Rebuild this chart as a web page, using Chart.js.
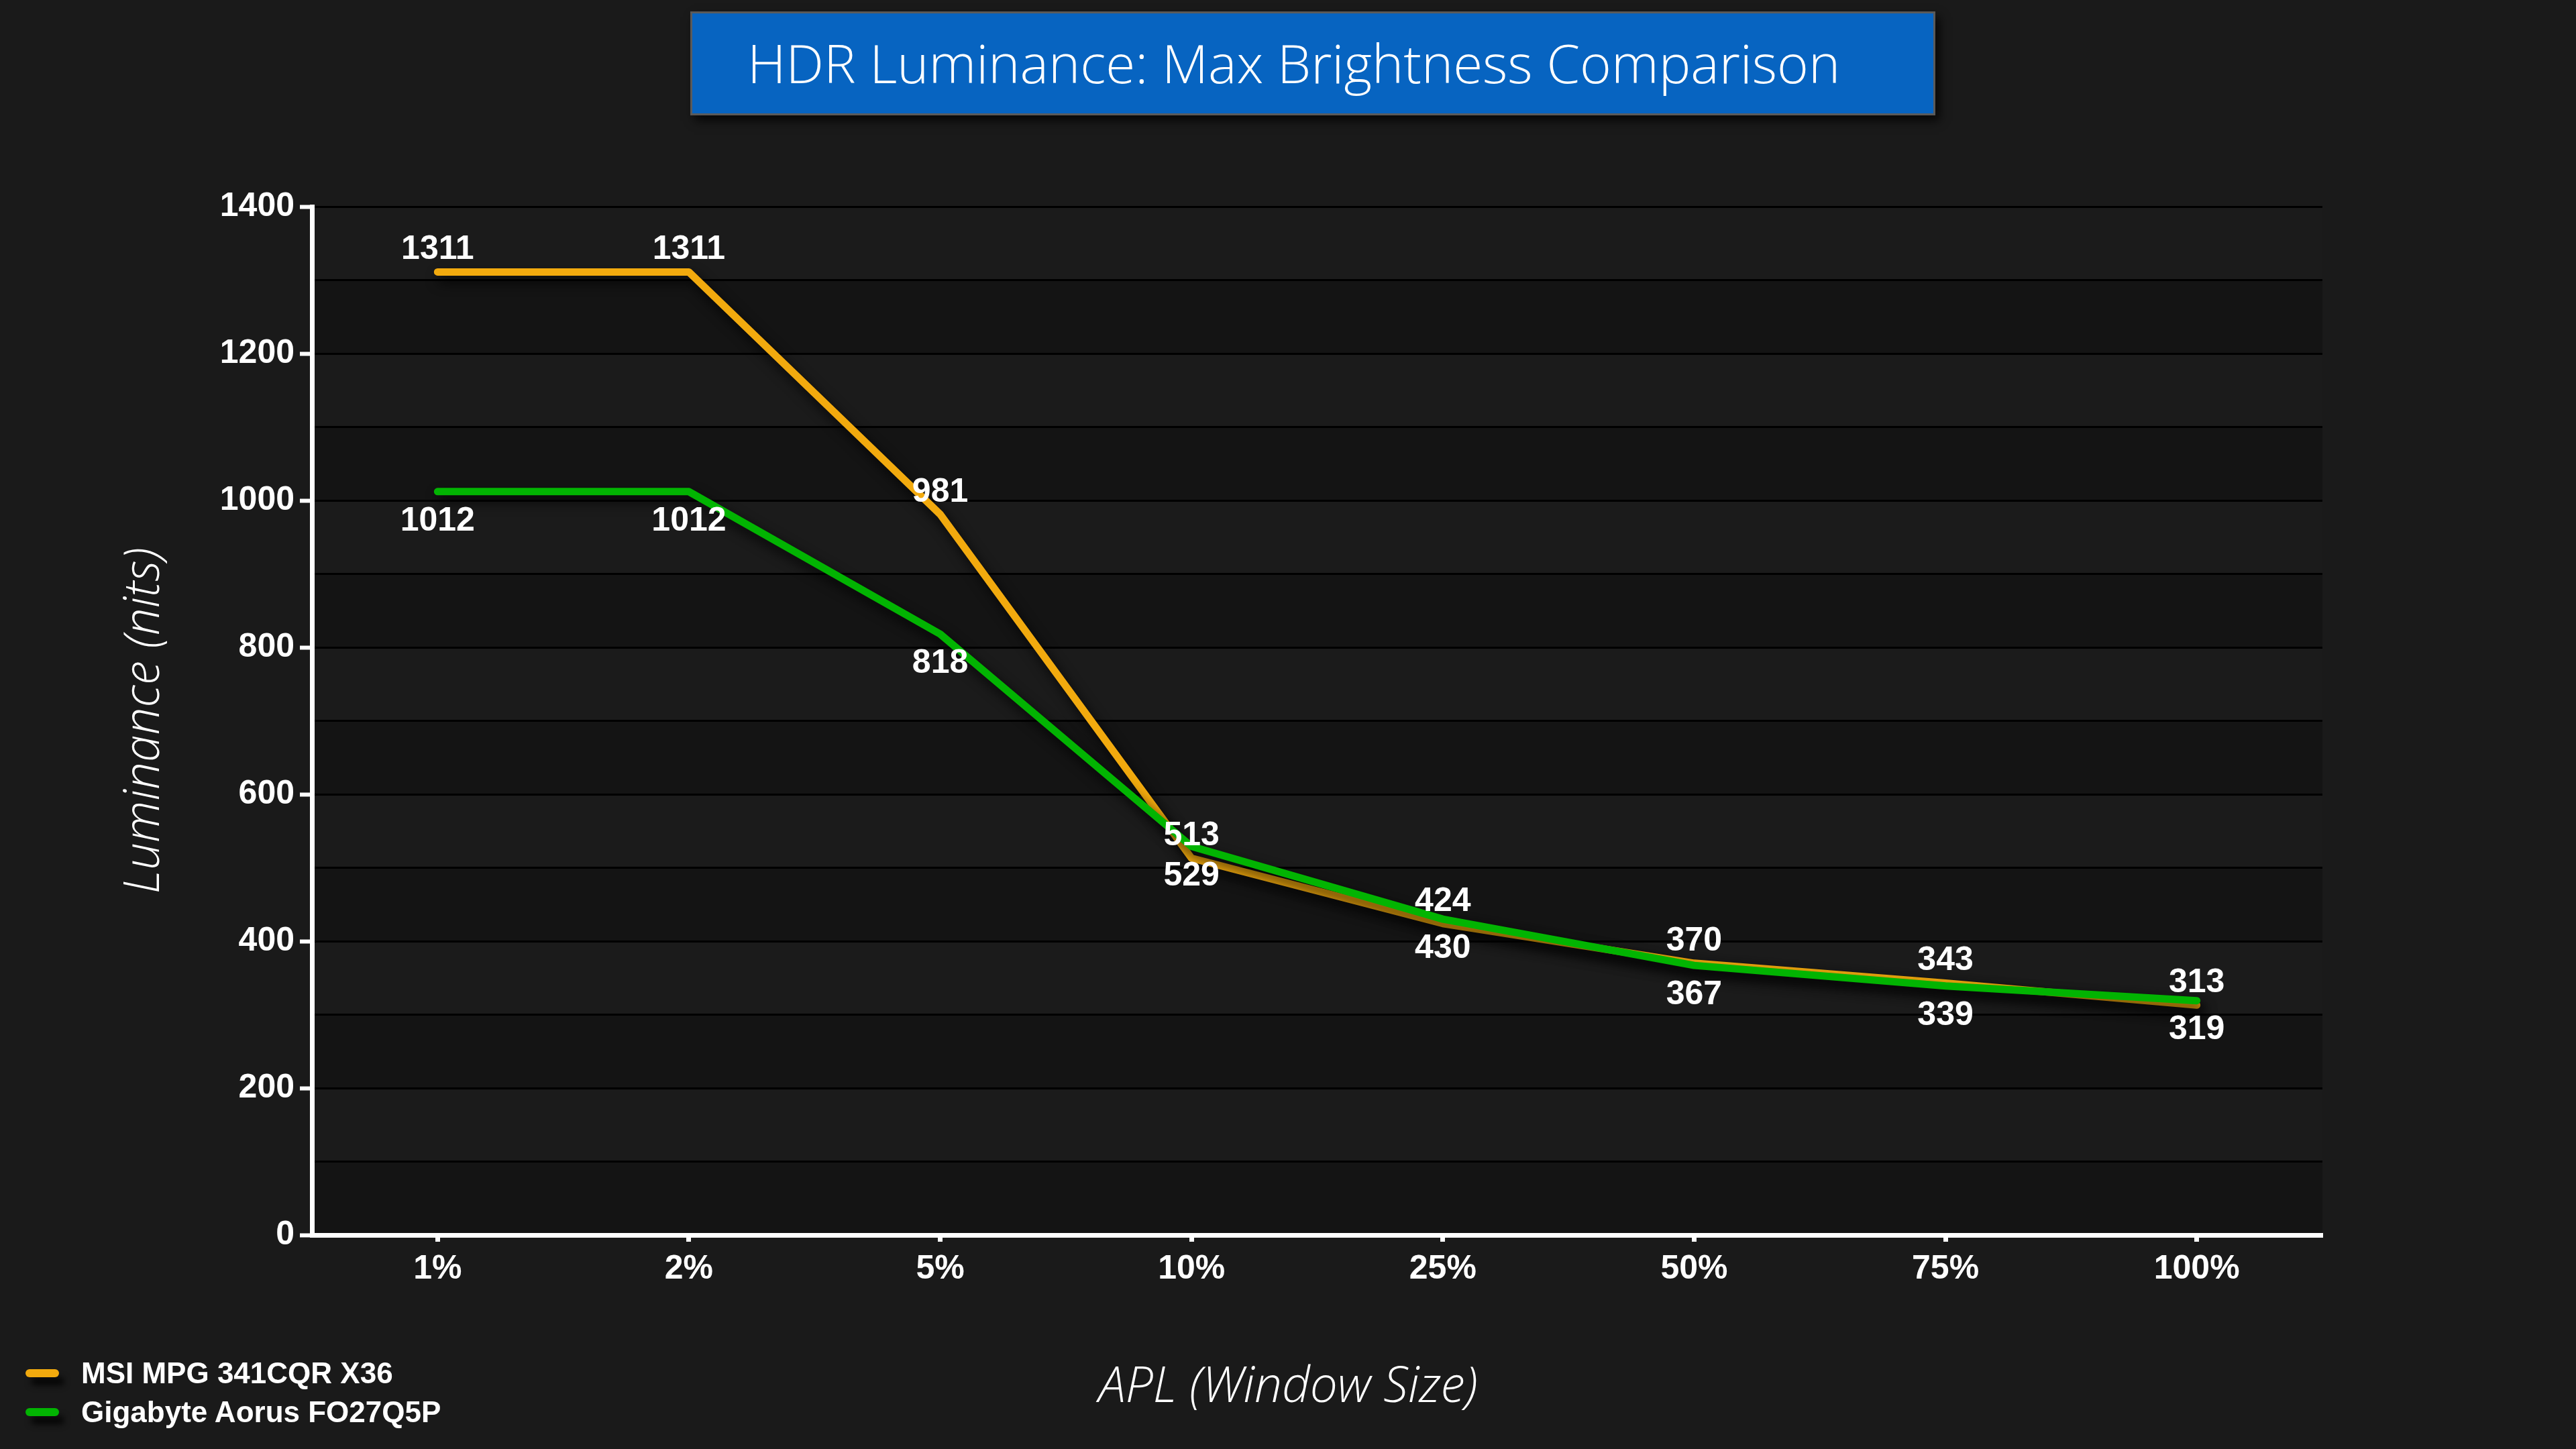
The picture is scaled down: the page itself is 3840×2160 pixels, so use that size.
<!DOCTYPE html>
<html>
<head>
<meta charset="utf-8">
<title>HDR Luminance</title>
<script src="https://cdn.jsdelivr.net/npm/chart.js@4.4.1/dist/chart.umd.min.js"></script>
<style>
  html, body { margin: 0; padding: 0; background: #1a1a1a; overflow: hidden; }
  #wrap { position: relative; width: 3840px; height: 2160px; }
  #chart { position: absolute; left: 0; top: 0; }
  #title {
    position: absolute; left: 1029px; top: 17px; width: 1856px; height: 155px;
    box-sizing: border-box; background: #0764c1; border: 3px solid #5a5a5a;
    box-shadow: 6px 8px 14px rgba(0,0,0,0.75);
    color: #fff; font-family: 'Open Sans', sans-serif; font-weight: 300; font-size: 80px;
    line-height: 146px; padding-left: 82px; white-space: nowrap;
  }
  #legend { position: absolute; left: 38px; top: 2018px; }
  .row { display: flex; align-items: center; height: 58px; }
  .swatch { width: 50px; height: 12px; border-radius: 6px; box-shadow: 8px 12px 10px rgba(0,0,0,0.8); margin-right: 33px; }
  .lbl { color: #fff; font-family: 'Liberation Sans', Arial, sans-serif; font-weight: bold; font-size: 44px; }
</style>
</head>
<body>
<div id="wrap">
  <canvas id="chart" width="3840" height="2160"></canvas>
  <div id="title">HDR Luminance: Max Brightness Comparison</div>
  <div id="legend"></div>
</div>
<script>
// Data
const windowSizes = ['1%', '2%', '5%', '10%', '25%', '50%', '75%', '100%'];
const msiValues = [1311, 1311, 981, 513, 424, 370, 343, 313];
const gigabyteValues = [1012, 1012, 818, 529, 430, 367, 339, 319];
const seriesNames = ['MSI MPG 341CQR X36', 'Gigabyte Aorus FO27Q5P'];
const seriesColors = ['#f2aa0e', '#02b402'];
const xAxisTitle = 'APL (Window Size)';
const yAxisTitle = 'Luminance (nits)';

Chart.defaults.font.family = "'Liberation Sans', Arial, sans-serif";
Chart.defaults.color = '#ffffff';

const titleFont = { family: "'Open Sans', sans-serif", size: 73, style: 'italic', weight: 300 };

// Background and alternating bands behind the grid
const bandsPlugin = {
    id: 'bands',
    beforeDraw(chart) {
        const { ctx, chartArea } = chart;
        const y = chart.scales.y;
        ctx.save();
        ctx.fillStyle = '#1a1a1a';
        ctx.fillRect(0, 0, chart.width, chart.height);
        for (let v = 0; v < 1400; v += 100) {
            ctx.fillStyle = (v / 100) % 2 === 0 ? '#141414' : '#1b1b1b';
            const top = y.getPixelForValue(v + 100);
            const bottom = y.getPixelForValue(v);
            ctx.fillRect(chartArea.left, top, chartArea.right - chartArea.left, bottom - top);
        }
        ctx.restore();
    }
};

// Drop shadow under the lines
const shadowPlugin = {
    id: 'lineShadow',
    beforeDatasetDraw(chart) {
        const ctx = chart.ctx;
        ctx.save();
        ctx.shadowColor = 'rgba(0,0,0,0.85)';
        ctx.shadowBlur = 18;
        ctx.shadowOffsetX = 6;
        ctx.shadowOffsetY = 10;
    },
    afterDatasetDraw(chart) {
        chart.ctx.restore();
    }
};

// Value labels: first series above its points, second below
const valueLabels = {
    id: 'valueLabels',
    afterDatasetsDraw(chart) {
        const ctx = chart.ctx;
        ctx.save();
        ctx.font = 'bold 50px "Liberation Sans", Arial, sans-serif';
        ctx.fillStyle = '#ffffff';
        ctx.textAlign = 'center';
        ctx.textBaseline = 'middle';
        chart.data.datasets.forEach((ds, i) => {
            const meta = chart.getDatasetMeta(i);
            meta.data.forEach((pt, j) => {
                const dy = i === 0 ? -33 : 44;
                ctx.fillText(String(ds.data[j]), pt.x, pt.y + dy);
            });
        });
        ctx.restore();
    }
};

// X axis title, centred on the page rather than on the plot
const xTitlePlugin = {
    id: 'xTitle',
    afterDraw(chart) {
        const ctx = chart.ctx;
        ctx.save();
        ctx.font = `${titleFont.style} ${titleFont.weight} ${titleFont.size}px ${titleFont.family}`;
        ctx.fillStyle = '#ffffff';
        ctx.textAlign = 'center';
        ctx.textBaseline = 'middle';
        ctx.fillText(xAxisTitle, chart.width / 2, 2069);
        ctx.restore();
    }
};

const ctx = document.getElementById('chart').getContext('2d');
const chart = new Chart(ctx, {
    type: 'line',
    data: {
        labels: windowSizes,
        datasets: [{
            label: seriesNames[0],
            data: msiValues,
            borderColor: seriesColors[0],
            borderWidth: 11,
            order: 1
        }, {
            label: seriesNames[1],
            data: gigabyteValues,
            borderColor: seriesColors[1],
            borderWidth: 11,
            order: 0
        }]
    },
    options: {
        responsive: false,
        animation: false,
        devicePixelRatio: 1,
        elements: {
            line: { tension: 0, borderCapStyle: 'round', borderJoinStyle: 'round', fill: false },
            point: { radius: 0, hoverRadius: 0 }
        },
        layout: { padding: { top: 308, right: 378, bottom: 40, left: 164 } },
        plugins: {
            legend: { display: false },
            tooltip: { enabled: false },
            title: { display: false }
        },
        scales: {
            x: {
                offset: true,
                afterFit(s) { s.height = 279; },
                grid: { drawOnChartArea: false, drawTicks: true, offset: false, tickLength: 10, tickWidth: 7, tickColor: '#ffffff' },
                border: { color: '#ffffff', width: 7 },
                ticks: { color: '#ffffff', padding: 11, font: { size: 50, weight: 'bold' } },
                title: { display: false, text: xAxisTitle }
            },
            y: {
                min: 0,
                max: 1400,
                afterFit(s) { s.width = 465 - 164; },
                grid: {
                    color: '#000000',
                    lineWidth: 3,
                    tickLength: 18,
                    tickWidth: 6,
                    tickColor: c => (c.tick && c.tick.value % 200 === 0) ? '#ffffff' : 'rgba(0,0,0,0)'
                },
                border: { color: '#ffffff', width: 7 },
                ticks: {
                    stepSize: 100,
                    padding: 8,
                    color: '#ffffff',
                    font: { size: 50, weight: 'bold' },
                    callback: v => (v % 200 === 0 ? v : '')
                },
                title: {
                    display: true,
                    text: yAxisTitle,
                    color: '#ffffff',
                    font: titleFont,
                    padding: { top: 8, bottom: 0 }
                }
            }
        }
    },
    plugins: [bandsPlugin, shadowPlugin, valueLabels, xTitlePlugin]
});

// Legend built from the datasets
const legendDiv = document.getElementById('legend');
chart.data.datasets.forEach(ds => {
    const row = document.createElement('div');
    row.className = 'row';
    const sw = document.createElement('div');
    sw.className = 'swatch';
    sw.style.background = ds.borderColor;
    const lbl = document.createElement('div');
    lbl.className = 'lbl';
    lbl.textContent = ds.label;
    row.appendChild(sw);
    row.appendChild(lbl);
    legendDiv.appendChild(row);
});
</script>
</body>
</html>
